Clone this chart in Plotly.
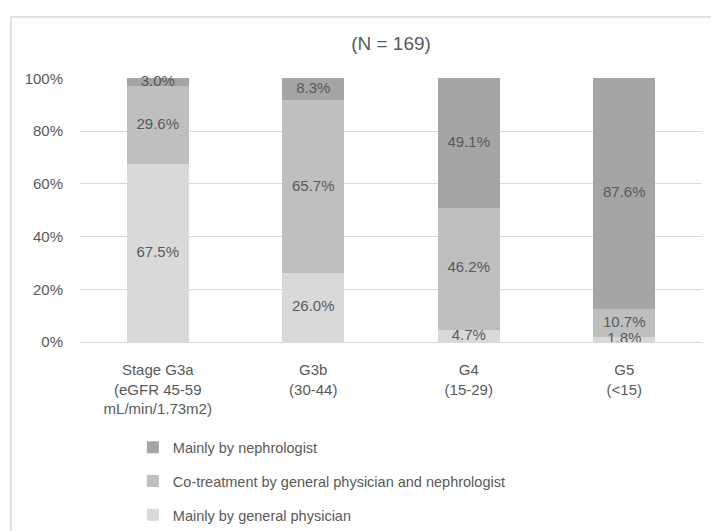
import plotly.graph_objects as go

# Share of CKD patients by who provides treatment, per eGFR stage
stages = [
    "Stage G3a<br>(eGFR 45-59<br>mL/min/1.73m2)",
    "G3b<br>(30-44)",
    "G4<br>(15-29)",
    "G5<br>(<15)",
]
general_physician = [67.5, 26.0, 4.7, 1.8]
co_treatment = [29.6, 65.7, 46.2, 10.7]
nephrologist = [3.0, 8.3, 49.1, 87.6]

y_ticks = [0, 20, 40, 60, 80, 100]
y_tick_text = ["0%", "20%", "40%", "60%", "80%", "100%"]

# (legend name, values, fill colour, legend rank)
series = [
    ("Mainly by general physician", general_physician, "#d9d9d9", 3),
    ("Co-treatment by general physician and nephrologist", co_treatment, "#bfbfbf", 2),
    ("Mainly by nephrologist", nephrologist, "#a5a5a5", 1),
]

FONT = "Liberation Sans, Arial, sans-serif"
TEXT = "#595959"

fig = go.Figure()
base = [0.0] * len(stages)
label_x, label_y, label_text = [], [], []
for i, (name, vals, color, rank) in enumerate(series):
    fig.add_trace(go.Bar(
        x=stages,
        y=vals,
        name=name,
        legendgroup=f"g{i}",
        legendrank=rank,
        marker=dict(color=color, line=dict(width=0)),
        hovertemplate="%{y:.1f}%<extra>" + name + "</extra>",
    ))
    # value labels sit in the middle of each stacked segment
    for j, v in enumerate(vals):
        label_x.append(stages[j])
        label_y.append(base[j] + v / 2)
        label_text.append(f"{v:.1f}%")
        base[j] += v

# labels drawn as a separate layer so they stay on top of every segment
fig.add_trace(go.Scatter(
    x=label_x, y=label_y, text=label_text,
    mode="text", textposition="middle center",
    textfont=dict(family=FONT, size=15, color=TEXT),
    cliponaxis=False, showlegend=False, hoverinfo="skip",
))

fig.update_layout(
    width=711,
    height=531,
    barmode="stack",
    bargap=0.6,
    paper_bgcolor="white",
    plot_bgcolor="white",
    margin=dict(l=80, r=9, t=78, b=189, autoexpand=False),
    font=dict(family=FONT, size=15, color=TEXT),
    title=dict(
        text="(N = 169)",
        x=0.5, xref="paper", xanchor="center",
        y=1 - 43 / 531, yref="container", yanchor="middle",
        font=dict(family=FONT, size=19, color=TEXT),
    ),
    legend=dict(
        orientation="v",
        tracegroupgap=12,
        x=0.085, xanchor="left",
        y=-0.338, yanchor="top",
        font=dict(family=FONT, size=14.5, color=TEXT),
        bgcolor="rgba(0,0,0,0)",
    ),
    shapes=[
        dict(type="rect", xref="paper", yref="paper",
             x0=-0.111, x1=1.02, y0=-0.85, y1=1.231,
             line=dict(color="#d9d9d9", width=1.5), fillcolor="rgba(0,0,0,0)",
             layer="below"),
    ],
)

fig.update_yaxes(
    range=[0, 100.15],
    tickvals=y_ticks,
    ticktext=y_tick_text,
    showgrid=True, gridcolor="#d9d9d9", gridwidth=1,
    zeroline=False, showline=False, ticks="",
    ticklabelstandoff=16,
    automargin=False,
    tickfont=dict(family=FONT, size=15, color=TEXT),
)
fig.update_xaxes(
    showline=True, linecolor="#d9d9d9", linewidth=1,
    ticks="", showgrid=False,
    ticklabelstandoff=14,
    automargin=False,
    tickfont=dict(family=FONT, size=15, color=TEXT),
)

fig.write_html("out.html")
